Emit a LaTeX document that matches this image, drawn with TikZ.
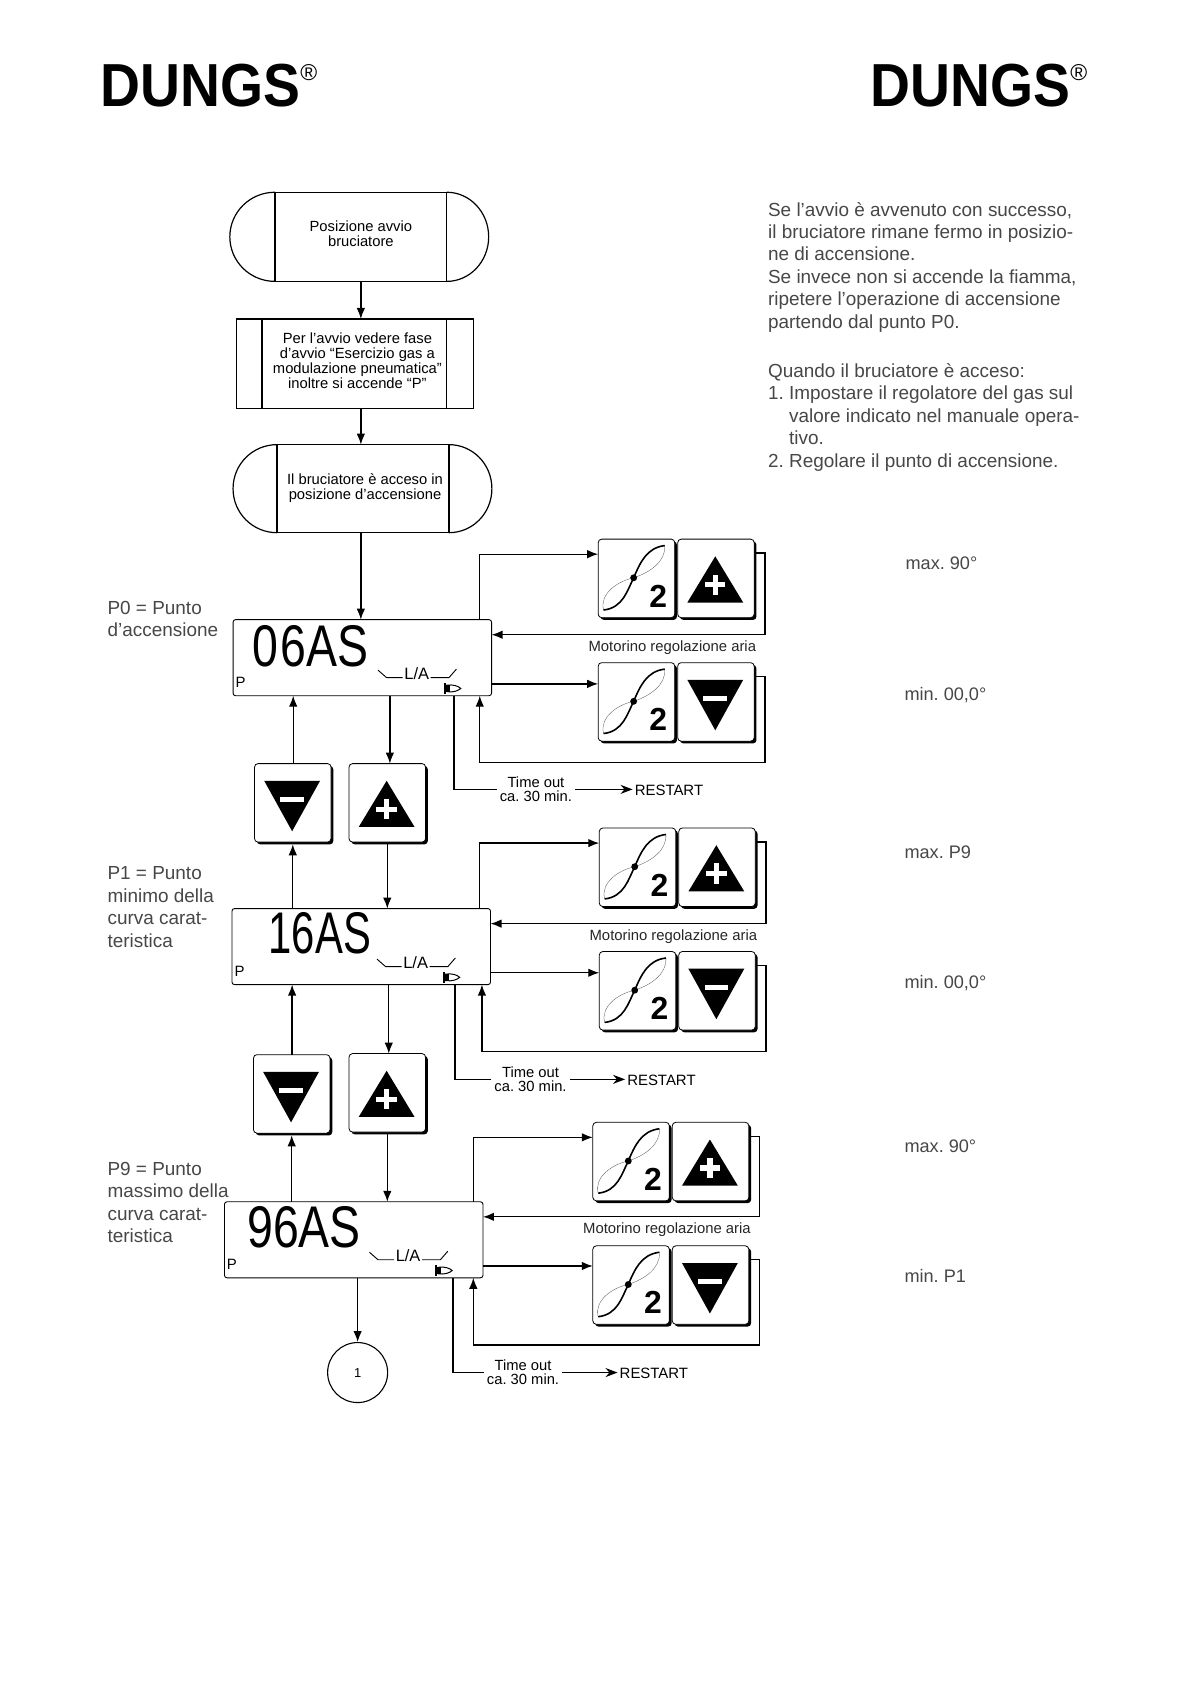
\documentclass[tikz,border=0pt]{standalone}
\usepackage{fontspec}
\setmainfont{Liberation Sans}
\usetikzlibrary{arrows.meta,calc,shadows}
\definecolor{softink}{gray}{0.28}
\frenchspacing
\tikzset{
  conn/.style={line width=1.3bp,draw=black},
  arr/.style={conn,-{Latex[length=11bp,width=8.5bp]}},
  smallarr/.style={conn,-{Stealth[length=12bp,width=9bp]}},
  keybox/.style={draw=black,fill=white,line width=.8bp,rounded corners=3.5bp,
    minimum width=76.5bp,minimum height=78.5bp,outer sep=0pt,inner sep=0pt,
    general shadow={fill=black,shadow xshift=2.3bp,shadow yshift=-2.3bp}},
  dispbox/.style={draw=black,line width=.9bp,rounded corners=2.5bp,
    minimum width=258.5bp,minimum height=76bp,outer sep=0pt,inner sep=0pt},
  flowbox/.style={draw=black,line width=1.2bp,outer sep=0pt,inner sep=0pt,align=center,
    font=\fontsize{14.8}{15}\selectfont},
  sidetext/.style={anchor=west,inner sep=0pt,text=softink,font=\fontsize{19}{22.55}\selectfont,align=left},
  valtext/.style={anchor=mid west,inner sep=0pt,text=softink,font=\fontsize{18.2}{20}\selectfont},
  motortext/.style={inner sep=0pt,text=black!85,font=\fontsize{14.9}{15}\selectfont},
  timetext/.style={inner sep=3pt,align=center,font=\fontsize{14.8}{15}\selectfont},
  restarttext/.style={anchor=west,inner sep=2pt,font=\fontsize{15}{15}\selectfont},
  logotext/.style={anchor=base west,inner sep=0pt,font=\bfseries\fontsize{61}{61}\selectfont},
  lcdtext/.style={anchor=west,inner sep=0pt,font=\fontsize{59}{59}\selectfont},
}
\newcommand\keyplus[3]{%
  \node[keybox,anchor=north west] (#1) at (#2,#3) {};
  \begin{scope}[shift={(#1.north west)}]
    \fill (9,59) -- (35,16) -- (61,59) -- cycle;
    \fill[white] (32.5,33) rectangle (37.5,52);
    \fill[white] (25.5,40) rectangle (44.5,45);
  \end{scope}}
\newcommand\keyminus[3]{%
  \node[keybox,anchor=north west] (#1) at (#2,#3) {};
  \begin{scope}[shift={(#1.north west)}]
    \fill (9,16) -- (61,16) -- (35,63) -- cycle;
    \fill[white] (24,31) rectangle (46,36);
  \end{scope}}
\newcommand\keymotor[3]{%
  \node[keybox,anchor=north west] (#1) at (#2,#3) {};
  \begin{scope}[shift={(#1.north west)}]
    \draw[line width=.3bp,black!70] (5,66) .. controls (1,51) and (18,39) .. (33,36)
       .. controls (48,31) and (63,21) .. (62,6);
    \draw[line width=1.6bp] (5,66) .. controls (23,64) and (27,48) .. (33,36)
       .. controls (39,22) and (45,8) .. (62,6);
    \fill (33,36) circle (3.2);
    \node[inner sep=0pt,font=\bfseries\fontsize{32}{32}\selectfont] (#1two) at (56,53) {2};
  \end{scope}}
\newcommand\lcd[6]{% name x y text textx texty
  \node[dispbox,anchor=north west] (#1) at (#2,#3) {};
  \node[lcdtext] (#1txt) at (#5,#6) {\scalebox{.79}[1]{#4}};
  \begin{scope}[shift={(#1.north west)}]
    \node[inner sep=0pt,font=\fontsize{15}{15}\selectfont] (#1p) at (7,58) {P};
    \node[inner sep=0pt,font=\fontsize{16.5}{15}\selectfont] (#1la) at (171,50) {L/A};
    \draw[line width=.9bp] (135,47) -- (143,54) -- (158,54);
    \draw[line width=.9bp] (184,54) -- (201,54) -- (208,46);
    \draw[line width=2bp] (197,59) -- (197,69);
    \draw[line width=1bp,fill=white] (199,61) .. controls (205,60) and (210,62) .. (212,64)
       .. controls (210,66) and (205,68) .. (199,67) -- cycle;
    \fill (197,61) rectangle (202,67);
  \end{scope}}
\newcommand\motorrow[7]{% display row x y1 y2 topoff botoff
  \keymotor{#2a}{#3}{#4}\keyplus{#2b}{#3+74}{#4}
  \keymotor{#2c}{#3}{#5}\keyminus{#2d}{#3+74}{#5}
  \draw[arr] ($(#1.north east)+(-#6,0)$) |- ($(#2a.north west)+(0,14)$);
  \draw[arr] ($(#2b.north east)+(2,13)$) -- ($(#2b.north east)+(10,13)$) |- ($(#1.north east)+(0,14)$);
  \coordinate (#2q) at ($(#1.south east)+(0,-11)$);
  \draw[arr] (#2q) -- (#2q -| #2c.west);
  \draw[arr] ($(#2d.north east)+(2,13)$) -- ($(#2d.north east)+(10,13)$) |- ($(#1.south east)+(-#7,62.5)$) -- ($(#1.south east)+(-#7,0)$);
}
\newcommand\timeout[6]{% display row offset textx y restartx
  \node[timetext] (#2time) at (#4,#5) {Time out\\[-1pt]ca. 30 min.};
  \node[restarttext] (#2rst) at (#6,#5+1) {RESTART};
  \draw[conn] ($(#1.south east)+(-#3,0)$) |- (#2time.west);
  \draw[smallarr] (#2time.east) -- (#2time.east -| #2rst.west);
}
\newcommand\termin[8]{% name x1 y1 x2 y2 dxleft dxright text
  \node[flowbox,minimum width={(#4-#2)*1.0739bp},minimum height={(#5-#3)*1.0739bp}] (#1)
     at ({(#2+#4)/2},{(#3+#5)/2}) {#8};
  \draw[line width=1.2bp] (#1.north west) .. controls ($(#1.north west)+(-#6*.55,0)$) and ($(#1.west)+(-#6,-23)$) .. ($(#1.west)+(-#6,0)$)
     .. controls ($(#1.west)+(-#6,23)$) and ($(#1.south west)+(-#6*.55,0)$) .. (#1.south west);
  \draw[line width=1.2bp] (#1.north east) .. controls ($(#1.north east)+(#7*.55,0)$) and ($(#1.east)+(#7,-23)$) .. ($(#1.east)+(#7,0)$)
     .. controls ($(#1.east)+(#7,23)$) and ($(#1.south east)+(#7*.55,0)$) .. (#1.south east);
}
\begin{document}
\begin{tikzpicture}[x=1.0739bp,y=-1.0739bp]
\fill[white] (0,0) rectangle (1109,1568);
\useasboundingbox (0,0) rectangle (1109,1568);

% logos
\node[logotext] (logoL) at (93.5,99) {\scalebox{.91}[1]{DUNGS}\raisebox{26bp}{\fontsize{23}{23}\selectfont\mdseries ®}};
\node[logotext] (logoR) at (810.5,99) {\scalebox{.91}[1]{DUNGS}\raisebox{26bp}{\fontsize{23}{23}\selectfont\mdseries ®}};

% flow
\termin{t1}{256}{179}{416}{262}{42}{39}{Posizione avvio\\bruciatore\rule[-7bp]{0pt}{0pt}}
\node[flowbox,minimum width={172*1.0739bp},minimum height={83*1.0739bp}] (b2) at (330,338.5)
  {\hspace*{6bp}Per l’avvio vedere fase\\\hspace*{6bp}d’avvio “Esercizio gas a\\\hspace*{6bp}modulazione pneumatica”\\\hspace*{6bp}inoltre si accende “P”\rule[-5bp]{0pt}{0pt}};
\draw[line width=1.2bp] ($(b2.north west)+(-24,0)$) rectangle (b2.south west);
\draw[line width=1.2bp] ($(b2.north east)+(25,0)$) rectangle (b2.south east);
\draw[line width=2.2bp] ($(b2.north west)+(-24,0)$) -- ($(b2.north east)+(25,0)$);
\termin{t3}{258}{414}{418}{496}{41}{40}{\hspace*{4bp}Il bruciatore è acceso in\\\hspace*{4bp}posizione d’accensione\rule[-5bp]{0pt}{0pt}}

\lcd{d1}{217}{577}{0\kern3pt 6AS}{235}{601.5}
\lcd{d2}{216}{846}{\scalebox{.9}[1]{16AS}}{250}{869}
\lcd{d3}{209}{1119}{96AS}{230}{1143}

\draw[arr] (t1.south -| 336,0) -- (b2.north -| 336,0);
\draw[arr] (b2.south -| 336,0) -- (t3.north -| 336,0);
\draw[arr] (t3.south -| 336,0) -- (d1.north -| 336,0);

% keys between displays
\keyminus{k1m}{237}{711}\keyplus{k1p}{325}{711}
\keyminus{k2m}{236}{982}\keyplus{k2p}{325}{981}
\draw[arr] (k1m.north -| 273,0) -- (d1.south -| 273,0);
\draw[arr] (d1.south -| 363,0) -- (k1p.north -| 363,0);
\draw[arr] (d2.north -| k1m.south) -- ($(k1m.south)+(0,2)$);
\draw[arr] ($(k1p.south)+(0,2)$) -- (d2.north -| k1p.south);
\draw[arr] (k2m.north -| 272,0) -- (d2.south -| 272,0);
\draw[arr] (d2.south -| 362,0) -- (k2p.north -| 362,0);
\draw[arr] (d3.north -| k2m.south) -- ($(k2m.south)+(0,2)$);
\draw[arr] ($(k2p.south)+(0,2)$) -- (d3.north -| k2p.south);

% motor rows
\motorrow{d1}{ra}{557}{502}{617}{11}{11}
\motorrow{d2}{rb}{558}{771}{886}{10}{8}
\motorrow{d3}{rc}{552}{1045}{1160}{9}{9}
\node[motortext] (m1) at (626,603) {Motorino regolazione aria};
\node[motortext] (m2) at (627,872) {Motorino regolazione aria};
\node[motortext] (m3) at (621,1145) {Motorino regolazione aria};

\timeout{d1}{ta}{35}{499}{735}{589}
\timeout{d2}{tb}{33}{494}{1005}{582}
\timeout{d3}{tc}{28}{487}{1278}{575}

% connector circle
\node[draw,circle,line width=1.1bp,minimum size=60bp,inner sep=0pt,font=\fontsize{13}{13}\selectfont] (c1) at (333,1278) {1};
\draw[arr] (d3.south -| c1.north) -- (c1.north);

% left labels
\node[sidetext] (l0) at (100,576.5) {P0 = Punto\\d’accensione};
\node[sidetext] (l1) at (100,844.5) {P1 = Punto\\minimo della\\curva carat-\\teristica};
\node[sidetext] (l9) at (100,1119.5) {P9 = Punto\\massimo della\\curva carat-\\teristica};

% right text
\node[sidetext,anchor=north west] (para1) at (715,188)
  {Se l’avvio è avvenuto con successo,\\il bruciatore rimane fermo in posizio-\\ne di accensione.\\Se invece non si accende la fiamma,\\ripetere l’operazione di accensione\\partendo dal punto P0.};
\node[sidetext,anchor=north west] (para2) at (715,338)
  {Quando il bruciatore è acceso:\\1. Impostare il regolatore del gas sul\\\hspace*{21bp}valore indicato nel manuale opera-\\\hspace*{21bp}tivo.\\2. Regolare il punto di accensione.};

% value labels
\node[valtext] (v1) at (843,527.5) {max. 90°};
\node[valtext] (v2) at (842,649.5) {min. 00,0°};
\node[valtext] (v3) at (842,797) {max. P9};
\node[valtext] (v4) at (842,918) {min. 00,0°};
\node[valtext] (v5) at (842,1071) {max. 90°};
\node[valtext] (v6) at (842,1192) {min. P1};
\end{tikzpicture}
\end{document}
